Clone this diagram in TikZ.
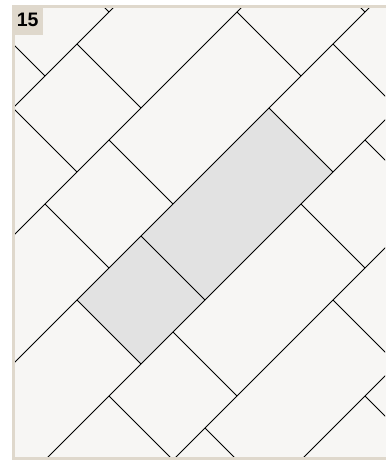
\documentclass[tikz,border=0pt]{standalone}
\usepackage{fontspec}
\setmainfont{Liberation Sans}
\definecolor{framebeige}{RGB}{223,216,204}
\definecolor{paper}{RGB}{247,246,244}
\definecolor{tilegray}{RGB}{226,226,226}
\begin{document}
\begin{tikzpicture}[x=1pt,y=1pt,
  tileline/.style={black,line width=0.9pt},
  labelbox/.style={fill=framebeige,draw=none,inner sep=0pt,minimum width=31pt,minimum height=30pt,anchor=north west,
    font=\fontsize{19.5}{19.5}\selectfont\bfseries}]
\useasboundingbox (0,0) rectangle (385,462);
\fill[white] (0,0) rectangle (385,462);
% paper area
\fill[paper] (13.5,3) rectangle (386,455.5);
\begin{scope}
\clip (15,5) rectangle (385,454);
\begin{scope}[shift={(77,162)},x={(64pt,64pt)},y={(64pt,-64pt)}]
  % shaded unit
  \fill[tilegray] (0,0) -- (3,0) -- (3,1) -- (0,1) -- cycle;
  % long lines (constant j)
  \foreach \k in {-4,...,5} {
    \draw[tileline] (-8,\k) -- (9,\k);
  }
  % short cuts (constant i)
  \foreach \k in {-4,...,4} {
    \foreach \m in {-4,...,4} {
      \pgfmathsetmacro\ia{3*\m-\k/2}
      \pgfmathsetmacro\ib{3*\m+1-\k/2}
      \draw[tileline] (\ia,\k) -- (\ia,\k+1);
      \draw[tileline] (\ib,\k) -- (\ib,\k+1);
    }
  }
\end{scope}
\end{scope}
% frame
\draw[framebeige,line width=3pt] (390,455.5) -- (13.5,455.5) -- (13.5,3) -- (390,3);
\node[labelbox] (lbl) at (12,457) {15};
\end{tikzpicture}
\end{document}
